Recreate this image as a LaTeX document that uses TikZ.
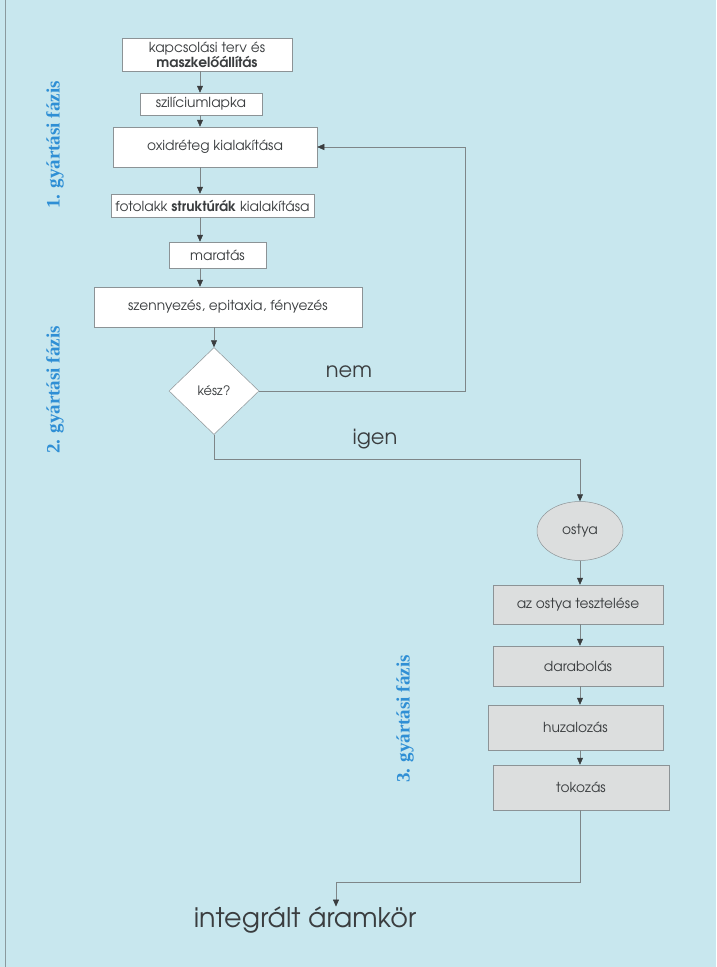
\documentclass[tikz,border=0pt]{standalone}
\usepackage{fontspec}
\setmainfont{texgyreadventor}[Extension=.otf,UprightFont=*-regular,BoldFont=*-bold]
\newfontfamily\phasefont{Liberation Serif}
\usetikzlibrary{arrows.meta,shapes.geometric}
\definecolor{paper}{HTML}{C8E7EE}
\definecolor{edge}{HTML}{8A9A9E}
\definecolor{boxline}{HTML}{8C9396}
\definecolor{boxgrey}{HTML}{DCDEDE}
\definecolor{ink}{HTML}{3A3D3F}
\definecolor{lineclr}{HTML}{7E8688}
\definecolor{phaseblue}{HTML}{2F8FD5}

\begin{document}
\begin{tikzpicture}[x=1pt,y=-1pt,
  flow/.style={draw=boxline,line width=0.5pt,fill=white,text=ink,inner sep=0pt,align=center,
    font=\fontsize{13.8}{15}\selectfont},
  greybox/.style={flow,fill=boxgrey},
  link/.style={draw=lineclr,line width=0.5pt,-{Triangle[width=6pt,length=7pt,color=ink,fill=ink]}},
  phase/.style={font=\phasefont\bfseries\fontsize{19}{21}\selectfont,text=phaseblue,rotate=90},
  branch/.style={text=ink,font=\fontsize{21}{24}\selectfont}]
  % ---- page background ----
  \fill[paper] (0,0) rectangle (716,967);
  \useasboundingbox (0,0) rectangle (716,967);
  \draw[edge,line width=0.6pt] (5,0) -- (5,967);

  % ---- phases 1 and 2: wafer processing (left column) ----
  \node[flow,minimum width=170,minimum height=33] (kapcs) at (207,54.5)
    {kapcsolási terv és\\\textbf{maszkelőállítás}};
  \node[flow,minimum width=122,minimum height=22] (szil) at (201,104) {szilíciumlapka};
  \node[flow,minimum width=204,minimum height=40] (oxid) at (215,147) {oxidréteg kialakítása};
  \node[flow,minimum width=203,minimum height=23] (foto) at (212.5,205.5)
    {fotolakk \textbf{struktúrák} kialakítása};
  \node[flow,minimum width=97,minimum height=26] (marat) at (217.5,255) {maratás};
  \node[flow,minimum width=268,minimum height=40] (szenny) at (228,307)
    {szennyezés, epitaxia, fényezés};
  \node[flow,diamond,minimum width=90,minimum height=87,font=\fontsize{13}{15}\selectfont]
    (kesz) at (214,391) {kész?};

  \coordinate (lcol) at (200,0);
  \draw[link] (kapcs.south -| lcol) -- (szil.north -| lcol);
  \draw[link] (szil.south -| lcol) -- (oxid.north -| lcol);
  \draw[link] (oxid.south -| lcol) -- (foto.north -| lcol);
  \draw[link] (foto.south -| lcol) -- (marat.north -| lcol);
  \draw[link] (marat.south -| lcol) -- (szenny.north -| lcol);
  \draw[link] (szenny.south -| kesz) -- (kesz.north);

  % no: back to the oxide step
  \coordinate (loopx) at (465,0);
  \draw[link] (kesz.east) -- (kesz.east -| loopx) |- (oxid.east);
  \node[branch] (nem) at (349,372) {nem};
  % yes: over to the wafer
  \coordinate (igenbend) at (214,459);

  % ---- phase 3: assembly (right column) ----
  \node[greybox,ellipse,minimum width=86,minimum height=59] (ostya) at (580,531) {ostya};
  \node[greybox,minimum width=170,minimum height=39] (teszt) at (578,604.5) {az ostya tesztelése};
  \node[greybox,minimum width=170,minimum height=40] (darab) at (578,666) {darabolás};
  \node[greybox,minimum width=175,minimum height=45] (huzal) at (575.5,727.5) {huzalozás};
  \node[greybox,minimum width=176,minimum height=45] (tokoz) at (581,787.5) {tokozás};

  \draw[link] (kesz.south) -- (igenbend) -| (ostya.north);
  \node[branch] (igen) at (375,439) {igen};

  \coordinate (rcol) at (580,0);
  \draw[link] (ostya.south -| rcol) -- (teszt.north -| rcol);
  \draw[link] (teszt.south -| rcol) -- (darab.north -| rcol);
  \draw[link] (darab.south -| rcol) -- (huzal.north -| rcol);
  \draw[link] (huzal.south -| rcol) -- (tokoz.north -| rcol);

  % ---- result ----
  \node[text=ink,font=\fontsize{27}{30}\selectfont,inner sep=0pt] (ic) at (305,920) {integrált áramkör};
  \coordinate (endturn) at (336,882);
  \draw[link] (tokoz.south -| rcol) |- (endturn) -- (endturn |- ic.north);

  % ---- phase labels ----
  \node[phase] (ph1) at (55,145) {1. gyártási fázis};
  \node[phase] (ph2) at (55,390) {2. gyártási fázis};
  \node[phase] (ph3) at (405,719) {3. gyártási fázis};
\end{tikzpicture}
\end{document}
